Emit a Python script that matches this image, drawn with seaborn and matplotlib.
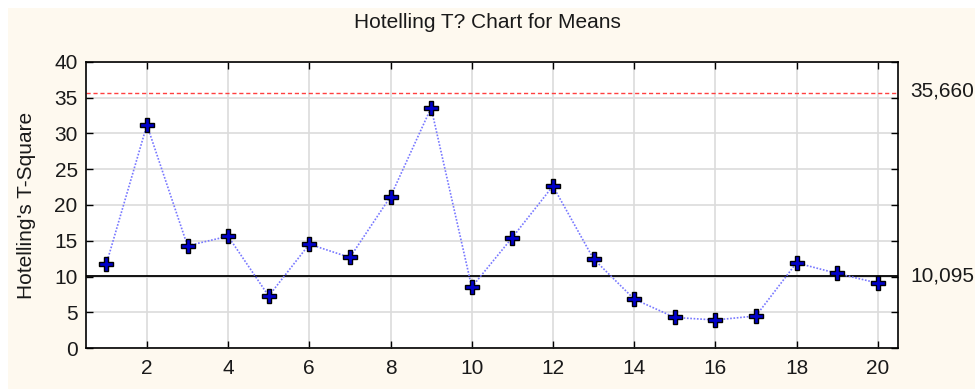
import matplotlib
matplotlib.use("Agg")
import matplotlib.pyplot as plt
import matplotlib.transforms as mtransforms
from matplotlib.patches import Rectangle
import seaborn as sns
import pandas as pd

# Sample numbers and Hotelling T-square statistics
samples = list(range(1, 21))
t_square = [11.73, 31.2, 14.3, 15.63, 7.27, 14.52, 12.66, 21.17, 33.6, 8.52,
            15.45, 22.65, 12.47, 6.85, 4.27, 3.92, 4.48, 11.91, 10.43, 9.08]

# Control limits
ucl = 35.660
center = 10.095
ucl_label = "35,660"
center_label = "10,095"

x_ticks = list(range(2, 21, 2))
y_ticks = list(range(0, 41, 5))

df = pd.DataFrame({"Sample": samples, "T2": t_square})

sns.set_theme(style="white")
plt.rcParams["font.family"] = ["Liberation Sans", "DejaVu Sans"]

fig = plt.figure(figsize=(9.75, 3.89), dpi=100)
fig.patch.set_facecolor("white")
fig.patches.append(Rectangle((8 / 975, 0), 1, 381 / 389, transform=fig.transFigure,
                             facecolor="#fef9ef", edgecolor="none", zorder=-5))

ax = fig.add_axes([86 / 975, 41 / 389, 812 / 975, 286 / 389])
ax.set_facecolor("white")

ax.axhline(ucl, color="#ff4040", linestyle=(0, (3, 2)), linewidth=1.0, zorder=2)
ax.axhline(center, color="black", linewidth=1.3, zorder=2)

sns.lineplot(data=df, x="Sample", y="T2", ax=ax, color="#7878ff",
             linestyle=(0, (1, 1)), linewidth=1.2, zorder=3)
ax.plot(df["Sample"], df["T2"], linestyle="none", marker="P", markersize=10,
        markerfacecolor="#0000cc", markeredgecolor="black", markeredgewidth=1.0,
        zorder=4)

ax.set_xlim(0.5, 20.5)
ax.set_ylim(0, 40)
ax.set_xticks(x_ticks)
ax.set_yticks(y_ticks)
ax.grid(True, color="#dcdcdc", linewidth=1.2)
ax.set_axisbelow(True)
for s in ax.spines.values():
    s.set_color("black")
    s.set_linewidth(1.2)

ax.tick_params(axis="both", direction="in", length=5, width=1, colors="black",
               labelsize=15, top=True, right=True, bottom=True, left=True)
ax.tick_params(axis="x", pad=8)
ax.tick_params(axis="y", pad=6)
for lab in ax.get_xticklabels() + ax.get_yticklabels():
    lab.set_color("#1a1a1a")

ax.set_xlabel("")
ax.set_ylabel("Hotelling's T-Square", fontsize=15, color="#1a1a1a")
ax.yaxis.set_label_coords(-0.062, 0.5)

trans = mtransforms.blended_transform_factory(fig.transFigure, ax.transData)
ax.text(910 / 975, ucl + 0.3, ucl_label, transform=trans, fontsize=15,
        va="center", ha="left", color="#1a1a1a", clip_on=False)
ax.text(910 / 975, center, center_label, transform=trans, fontsize=15,
        va="center", ha="left", color="#1a1a1a", clip_on=False)

fig.text(487 / 975, (389 - 22) / 389, "Hotelling T? Chart for Means",
         ha="center", va="center", fontsize=15, color="#1a1a1a")

fig.savefig("out.png", dpi=100, facecolor=fig.get_facecolor())
